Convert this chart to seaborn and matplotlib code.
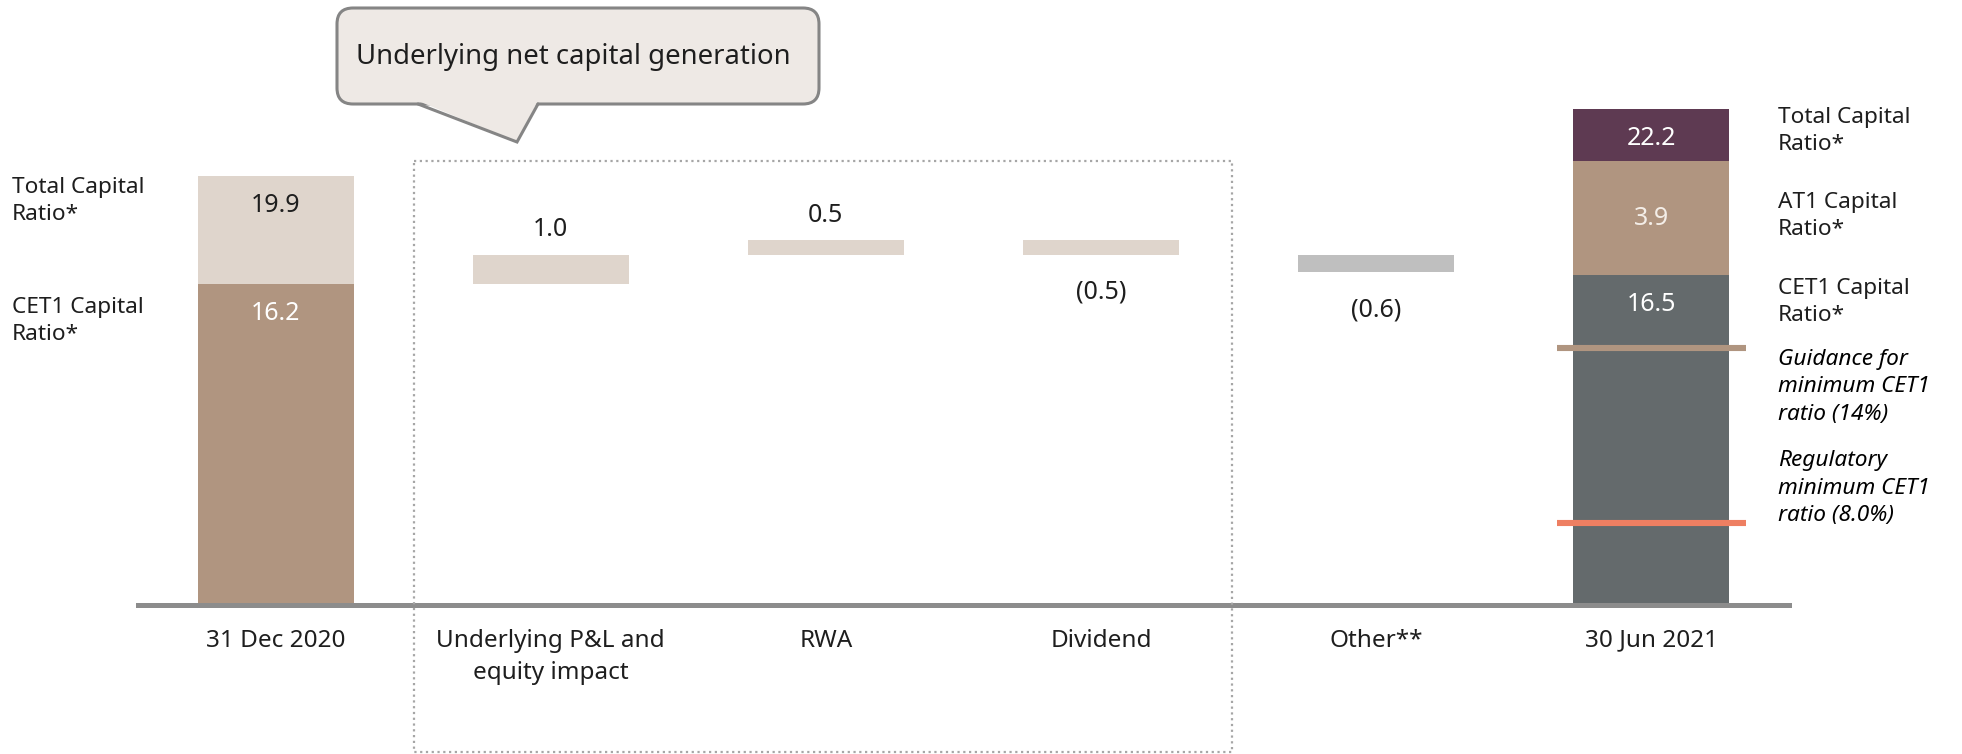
import matplotlib
matplotlib.use("Agg")
import matplotlib.pyplot as plt
from matplotlib.patches import FancyBboxPatch, Polygon, Rectangle
import numpy as np
import pandas as pd
import seaborn as sns

# ---- data -------------------------------------------------------------
categories = ["31 Dec 2020", "Underlying P&L and\nequity impact", "RWA",
              "Dividend", "Other**", "30 Jun 2021"]

# opening position (31 Dec 2020)
start_cet1 = 16.2
start_total = 19.9

# movements in CET1 ratio (percentage points)
step_labels = ["Underlying P&L and\nequity impact", "RWA", "Dividend", "Other**"]
step_values = [1.0, 0.5, -0.5, -0.6]

# closing position (30 Jun 2021)
end_cet1 = 16.5
end_at1 = 3.9
end_total = 22.2

# CET1 thresholds
guidance_min = 14.0
regulatory_min = 8.0

# ---- style ------------------------------------------------------------
sns.set_theme(style="white")
plt.rcParams["font.family"] = ["Noto Sans", "DejaVu Sans"]

C_LIGHT = "#DFD5CC"
C_TAN = "#B09580"
C_PURPLE = "#5E3A52"
C_GREY = "#646A6C"
C_OTHER = "#BFBFBF"
C_AXIS = "#8C8C8C"
C_TEXT = "#1E1E1E"

W, H = 1962, 754
fig = plt.figure(figsize=(W / 100, H / 100), dpi=100)
ax = fig.add_axes([138 / W, (H - 605) / H, 1651 / W, 605 / H])

bar_w = 0.567
y_lo = 5.2
y_hi = y_lo + 605 / 29.2

# stacked closing / opening bars drawn as overlapping layers (tallest first)
layers = pd.DataFrame({
    "category": ["31 Dec 2020", "31 Dec 2020", "30 Jun 2021", "30 Jun 2021", "30 Jun 2021"],
    "top": [start_total, start_cet1, end_total, end_cet1 + end_at1, end_cet1],
    "colour": [C_LIGHT, C_TAN, C_PURPLE, C_TAN, C_GREY],
})
for _, row in layers.iterrows():
    sns.barplot(data=pd.DataFrame({"category": [row["category"]], "top": [row["top"]]}),
                x="category", y="top", order=categories, color=row["colour"],
                saturation=1, width=bar_w, errorbar=None, ax=ax, linewidth=0)

# floating waterfall steps
level = start_cet1
step_colours = [C_LIGHT, C_LIGHT, C_LIGHT, C_OTHER]
for lab, val, col in zip(step_labels, step_values, step_colours):
    xpos = categories.index(lab)
    ax.bar(xpos, val, bottom=level, width=bar_w, color=col, linewidth=0)
    if val >= 0:
        ax.annotate(f"{val:.1f}", (xpos, level + val), xytext=(0, 18),
                    textcoords="offset points", ha="center", va="center",
                    fontsize=18, color=C_TEXT)
    else:
        ax.annotate(f"({abs(val):.1f})", (xpos, level + val), xytext=(0, -27),
                    textcoords="offset points", ha="center", va="center",
                    fontsize=18, color=C_TEXT)
    level += val

# value labels inside stacked bars
def inside(xpos, y, text, colour):
    ax.annotate(text, (xpos, y), xytext=(0, -21.5), textcoords="offset points",
                ha="center", va="center", fontsize=18, color=colour)

inside(0, start_total, f"{start_total:.1f}", C_TEXT)
inside(0, start_cet1, f"{start_cet1:.1f}", "white")
inside(5, end_total, f"{end_total:.1f}", "white")
inside(5, end_cet1, f"{end_cet1:.1f}", "white")
ax.text(5, end_cet1 + end_at1 / 2, f"{end_at1:.1f}", ha="center", va="center",
        fontsize=18, color="#F4EEE8")

# threshold markers on the closing bar
ax.hlines(guidance_min, 5 - 0.343, 5 + 0.343, color=C_TAN, linewidth=4.4)
ax.hlines(regulatory_min, 5 - 0.343, 5 + 0.343, color="#EE7F62", linewidth=4.4)

# axes cosmetics
ax.set_xlim(-0.5, 5.5)
ax.set_ylim(y_lo, y_hi)
ax.set_xticks(range(len(categories)))
ax.set_xticklabels(categories, fontsize=17.5, color=C_TEXT, linespacing=1.45)
ax.tick_params(axis="x", length=0, pad=17)
ax.set_yticks([])
ax.set_xlabel("")
ax.set_ylabel("")
for side in ("top", "left", "right"):
    ax.spines[side].set_visible(False)
ax.spines["bottom"].set_color(C_AXIS)
ax.spines["bottom"].set_linewidth(3.6)
ax.patch.set_alpha(0)

# ---- overlay in pixel coordinates for callout and side captions ----------
ov = fig.add_axes([0, 0, 1, 1], zorder=5)
ov.set_xlim(0, W)
ov.set_ylim(H, 0)
ov.axis("off")
ov.patch.set_alpha(0)

# dotted frame around the underlying generation items
ov.add_patch(Rectangle((414, 161), 1232 - 414, 752 - 161, fill=False,
                       edgecolor="#A6A6A6", linewidth=1.6, linestyle=(0, (1, 1.6))))

# speech-bubble callout
body = FancyBboxPatch((337 + 16, 8 + 16), 819 - 337 - 32, 104 - 8 - 32,
                      boxstyle="round,pad=16", facecolor="#EEE9E5",
                      edgecolor="#858585", linewidth=2.2)
ov.add_patch(body)
ov.add_patch(Polygon([(419.5, 101.5), (517, 142), (537.5, 101.5)], closed=True,
                     facecolor="#EEE9E5", edgecolor="none"))
ov.plot([418, 517, 538], [104, 142, 104], color="#858585", linewidth=2.2,
        solid_joinstyle="miter")
ov.text(356, 57, "Underlying net capital generation", fontsize=19.8,
        ha="left", va="center", color=C_TEXT)

# left captions
cap = dict(fontsize=16.3, ha="left", va="center", color=C_TEXT, linespacing=1.4)
ov.text(12, 201, "Total Capital\nRatio*", **cap)
ov.text(12, 321, "CET1 Capital\nRatio*", **cap)

# right captions
ov.text(1778, 131, "Total Capital\nRatio*", **cap)
ov.text(1778, 216, "AT1 Capital\nRatio*", **cap)
ov.text(1778, 302, "CET1 Capital\nRatio*", **cap)
ital = dict(fontsize=16.3, ha="left", va="center", color="black",
            style="italic", linespacing=1.4)
ov.text(1778, 387, "Guidance for\nminimum CET1\nratio (14%)", **ital)
ov.text(1778, 488, "Regulatory\nminimum CET1\nratio (8.0%)", **ital)

fig.savefig("out.png", dpi=100)
